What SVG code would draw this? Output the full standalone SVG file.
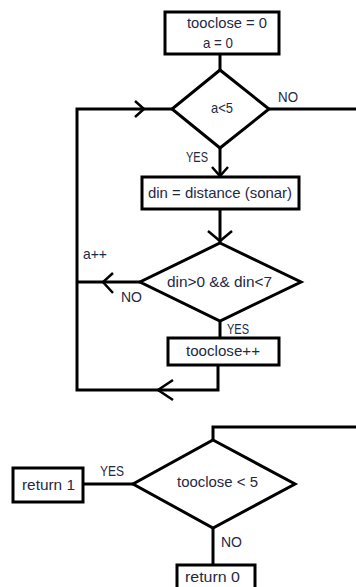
<svg xmlns="http://www.w3.org/2000/svg" width="356" height="587" viewBox="0 0 356 587">
<style>
.s{fill:#ffffff;stroke:#000000;stroke-width:3}
.l{fill:none;stroke:#000000;stroke-width:3}
.a{fill:none;stroke:#000000;stroke-width:2.5}
text{font-family:"Liberation Sans","Open Sans",sans-serif;font-size:14.5px;fill:#1f2a44}
</style>
<rect width="356" height="587" fill="#ffffff"/>
<g id="connectors">
<polyline class="l" points="220,54 220,70"/>
<polyline class="l" points="268,109 356,109"/>
<polyline class="l" points="172,109 77,109 77,390 218,390 218,365"/>
<polyline class="l" points="220,148 220,177"/>
<polyline class="l" points="220,209 220,243"/>
<polyline class="l" points="140,282 77,282"/>
<polyline class="l" points="220,321 220,338"/>
<polyline class="l" points="356,427 213,427 213,440"/>
<polyline class="l" points="133,484 83,484"/>
<polyline class="l" points="213,528 213,565"/>
<polyline class="a" points="135,101 144,109 135,117"/>
<polyline class="a" points="212,167 220,176 228,167"/>
<polyline class="a" points="208,231 220,241 232,231"/>
<polyline class="a" points="113,273 103,282 113,293"/>
<polyline class="a" points="173,380 158,390 173,400"/>
<text x="278" y="102" textLength="20" lengthAdjust="spacingAndGlyphs">NO</text>
<text x="186" y="162" textLength="22" lengthAdjust="spacingAndGlyphs">YES</text>
<text x="83" y="259" textLength="24" lengthAdjust="spacingAndGlyphs">a++</text>
<text x="121" y="302" textLength="21" lengthAdjust="spacingAndGlyphs">NO</text>
<text x="227" y="334" textLength="22" lengthAdjust="spacingAndGlyphs">YES</text>
<text x="100" y="476" textLength="24" lengthAdjust="spacingAndGlyphs">YES</text>
<text x="221" y="547" textLength="21" lengthAdjust="spacingAndGlyphs">NO</text>
</g>
<g id="init">
<rect class="s" x="165" y="12" width="114" height="42"/>
<text x="187" y="28" textLength="80" lengthAdjust="spacingAndGlyphs">tooclose = 0</text>
<text x="203" y="48" textLength="30" lengthAdjust="spacingAndGlyphs">a = 0</text>
</g>
<g id="loop-check">
<polygon class="s" points="220,70 269,109 220,148 172,109"/>
<text x="211" y="113" textLength="22" lengthAdjust="spacingAndGlyphs">a&lt;5</text>
</g>
<g id="read-distance">
<rect class="s" x="142" y="177" width="157" height="32"/>
<text x="148" y="198" textLength="144" lengthAdjust="spacingAndGlyphs">din = distance (sonar)</text>
</g>
<g id="range-check">
<polygon class="s" points="220,243 301,282 220,321 140,282"/>
<text x="167" y="287" textLength="105" lengthAdjust="spacingAndGlyphs">din&gt;0 &amp;&amp; din&lt;7</text>
</g>
<g id="increment">
<rect class="s" x="168" y="338" width="111" height="27"/>
<text x="186" y="356" textLength="74" lengthAdjust="spacingAndGlyphs">tooclose++</text>
</g>
<g id="final-check">
<polygon class="s" points="213,440 295,484 213,528 133,484"/>
<text x="177" y="487" textLength="81" lengthAdjust="spacingAndGlyphs">tooclose &lt; 5</text>
</g>
<g id="return1">
<rect class="s" x="13" y="468" width="70" height="34"/>
<text x="22" y="490" textLength="53" lengthAdjust="spacingAndGlyphs">return 1</text>
</g>
<g id="return0">
<rect class="s" x="177" y="565" width="78" height="30"/>
<text x="185" y="582" textLength="55" lengthAdjust="spacingAndGlyphs">return 0</text>
</g>
</svg>
